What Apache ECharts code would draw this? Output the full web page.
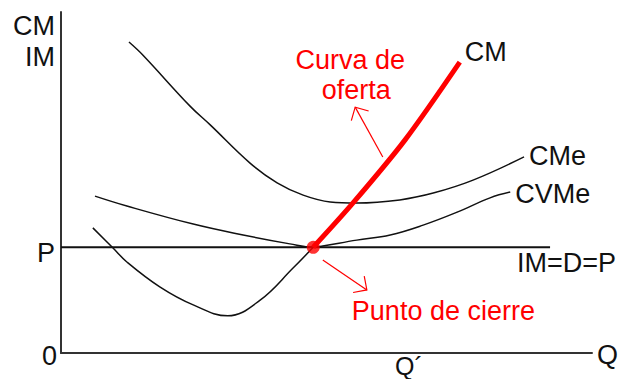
<!DOCTYPE html>
<html>
<head>
<meta charset="utf-8">
<script src="https://cdn.jsdelivr.net/npm/echarts@6/dist/echarts.min.js"></script>
<style>
  html, body { margin: 0; padding: 0; background: #fff; }
  #chart { width: 620px; height: 379px; }
</style>
</head>
<body>
<div id="chart"></div>
<script>
// Short-run cost curves of a competitive firm (quantity on x, cost/revenue on y)
const price = 31;            // P = IM = D
const priceLineEnd = 92.1;   // where the horizontal price line stops
const qPrime = 65.7;         // Q´ tick on the quantity axis

// Marginal cost (CM) below the shutdown point
const cmQ = [6.0, 9.8, 12.4, 18.6, 24.9, 31.4, 37.5, 43.7, 47.5];
const cmV = [36.7, 30.8, 26.7, 19.4, 14.1, 10.9, 15.5, 24.9, 31.0];

// Marginal cost above the shutdown point = supply curve
const supplyQ = [47.5, 55.0, 64.8, 75.1];
const supplyV = [31.0, 44.0, 62.5, 85.3];

// Average total cost (CMe)
const cmeQ = [12.8, 15.4, 24.3, 28.1, 35.6, 40.7, 45.6, 50.7, 55.7, 63.8, 70.1, 77.6, 87.2];
const cmeV = [91.2, 87.4, 72.4, 66.9, 55.7, 49.9, 46.3, 44.3, 44.0, 44.9, 46.9, 50.7, 57.5];

// Average variable cost (CVMe)
const cvmeQ = [6.4, 12.4, 24.9, 34.3, 43.1, 47.5, 49.3, 55.7, 62.0, 68.2, 74.6, 80.8, 84.6];
const cvmeV = [46.0, 43.1, 37.8, 34.6, 32.0, 31.0, 31.4, 33.1, 34.6, 37.5, 41.3, 45.5, 47.2];

// Shutdown point
const closeQ = 47.5;

// Annotation arrows: [tail, tip] in data units
const supplyArrow = [[60.6, 57.5], [55.4, 72.1]];
const closeArrow = [[49.3, 27.3], [57.6, 18.5]];

const zip = (xs, ys) => xs.map((x, i) => [x, ys[i]]);

const FONT = '27px "Liberation Sans", Arial, sans-serif';
const INK = '#111';
const RED = '#ff0000';

const chart = echarts.init(document.getElementById('chart'), null, { renderer: 'svg' });

const axisCommon = {
  type: 'value', min: 0, max: 100,
  axisLine: { show: true, lineStyle: { color: '#333', width: 2 } },
  axisTick: { show: false },
  axisLabel: { show: false },
  splitLine: { show: false }
};

chart.setOption({
  animation: false,
  backgroundColor: '#fff',
  grid: { left: 61, right: 28, top: 12, bottom: 26 },
  xAxis: axisCommon,
  yAxis: axisCommon,
  series: [
    {
      name: 'IM=D=P', type: 'line', symbol: 'none',
      data: [[0, price], [priceLineEnd, price]],
      lineStyle: { color: INK, width: 2 }
    },
    {
      name: 'CMe', type: 'line', symbol: 'none', smooth: 0.4,
      data: zip(cmeQ, cmeV),
      lineStyle: { color: INK, width: 1.5 }
    },
    {
      name: 'CVMe', type: 'line', symbol: 'none', smooth: 0.4,
      data: zip(cvmeQ, cvmeV),
      lineStyle: { color: INK, width: 1.5 }
    },
    {
      name: 'CM', type: 'line', symbol: 'none', smooth: 0.4,
      data: zip(cmQ, cmV),
      lineStyle: { color: INK, width: 1.5 }
    },
    {
      name: 'Curva de oferta', type: 'line', symbol: 'none', smooth: 0.3,
      data: zip(supplyQ, supplyV),
      lineStyle: { color: RED, width: 5 }, z: 5
    },
    {
      name: 'Punto de cierre', type: 'scatter', symbolSize: 13,
      data: [[closeQ, price]],
      itemStyle: { color: RED }, z: 6
    }
  ]
});

const px = (p) => chart.convertToPixel({ gridIndex: 0 }, p);

function label(text, anchor, dx, dy, align, color, font) {
  const [x, y] = px(anchor);
  return {
    type: 'text', z: 10,
    style: {
      text, x: x + dx, y: y + dy, font: font || FONT, fill: color || INK,
      textAlign: align || 'left', textVerticalAlign: 'middle'
    }
  };
}

function arrow(pair) {
  const tail = px(pair[0]);
  const tip = px(pair[1]);
  const ang = Math.atan2(tail[1] - tip[1], tail[0] - tip[0]);
  const len = 14, spread = Math.PI / 4;
  const w1 = [tip[0] + len * Math.cos(ang + spread), tip[1] + len * Math.sin(ang + spread)];
  const w2 = [tip[0] + len * Math.cos(ang - spread), tip[1] + len * Math.sin(ang - spread)];
  const style = { stroke: RED, lineWidth: 1.2, fill: null };
  return [
    { type: 'polyline', z: 9, shape: { points: [tail, tip] }, style },
    { type: 'polyline', z: 9, shape: { points: [w1, tip, w2] }, style }
  ];
}

const last = (q, v) => [q[q.length - 1], v[v.length - 1]];

chart.setOption({
  graphic: [
    label('CM', [0, 100], -6, 14, 'right'),
    label('IM', [0, 100], -6, 45, 'right'),
    label('P', [0, price], -6, 6, 'right'),
    label('0', [0, 0], -4, 3, 'right'),
    label('Q', [100, 0], 5, 2, 'left'),
    label('Q´', [qPrime, 0], -1, 13, 'center', INK, '25px "Liberation Sans", Arial, sans-serif'),
    label('CM', last(supplyQ, supplyV), 5, -10, 'left'),
    label('CMe', last(cmeQ, cmeV), 5, -1, 'left'),
    label('CVMe', last(cvmeQ, cvmeV), 5, 2, 'left'),
    label('IM=D=P', [priceLineEnd, price], -33, 16, 'left'),
    label('Curva de', supplyArrow[1], -5, -47, 'center', RED),
    label('oferta', supplyArrow[1], 1, -17, 'center', RED),
    label('Punto de cierre', closeArrow[1], -15, 21, 'left', RED),
    ...arrow(supplyArrow),
    ...arrow(closeArrow)
  ]
});
</script>
</body>
</html>
